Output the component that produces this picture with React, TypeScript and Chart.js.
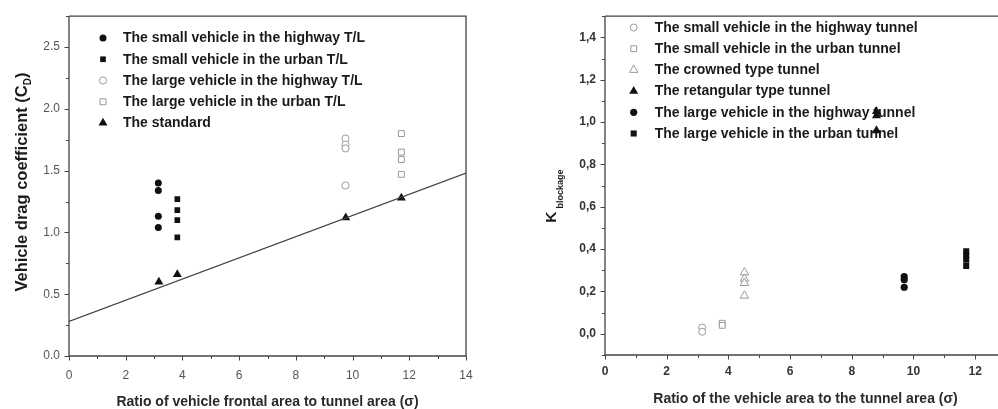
import React, { useEffect, useRef } from 'react';
import { Chart, registerables } from 'chart.js';
Chart.register(...registerables);

const FONT = '"Liberation Sans", Arial, Helvetica, sans-serif';
const BLACK = '#111111';
const GRAY = '#9a9a9a';
const AXIS = '#444444';

// ---------- Left chart data ----------
const leftXTicks = [0, 2, 4, 6, 8, 10, 12, 14];
const leftXMinor = [1, 3, 5, 7, 9, 11, 13];
const leftYTicks = [0, 0.5, 1.0, 1.5, 2.0, 2.5];
const leftYMinor = [0.25, 0.75, 1.25, 1.75, 2.25, 2.75];

const smallHighwayTL_X = [3.15, 3.15, 3.15, 3.15];
const smallHighwayTL_Y = [1.40, 1.34, 1.13, 1.04];
const smallUrbanTL_X = [3.82, 3.82, 3.82, 3.82];
const smallUrbanTL_Y = [1.27, 1.18, 1.10, 0.96];
const largeHighwayTL_X = [9.75, 9.75, 9.75, 9.75];
const largeHighwayTL_Y = [1.76, 1.71, 1.68, 1.38];
const largeUrbanTL_X = [11.72, 11.72, 11.72, 11.72];
const largeUrbanTL_Y = [1.80, 1.65, 1.59, 1.47];
const standard_X = [3.17, 3.82, 9.76, 11.72];
const standard_Y = [0.60, 0.66, 1.12, 1.28];
const fitLine_X = [0, 14];
const fitLine_Y = [0.28, 1.48];

const leftLabels = [
  'The small vehicle in the highway T/L',
  'The small vehicle in the urban T/L',
  'The large vehicle in the highway T/L',
  'The large vehicle in the urban T/L',
  'The standard',
];

// ---------- Right chart data ----------
const rightXTicks = [0, 2, 4, 6, 8, 10, 12];
const rightXMinor = [1, 3, 5, 7, 9, 11, 13];
const rightYTicks = [0, 0.2, 0.4, 0.6, 0.8, 1.0, 1.2, 1.4];
const rightYMinor = [-0.1, 0.1, 0.3, 0.5, 0.7, 0.9, 1.1, 1.3, 1.5];

const smallHighwayTunnel_X = [3.15, 3.15];
const smallHighwayTunnel_Y = [0.03, 0.01];
const smallUrbanTunnel_X = [3.8, 3.8];
const smallUrbanTunnel_Y = [0.05, 0.04];
const crowned_X = [4.52, 4.52, 4.52, 4.52];
const crowned_Y = [0.29, 0.26, 0.24, 0.18];
const rectangular_X = [8.8, 8.8, 8.8];
const rectangular_Y = [1.05, 1.03, 0.96];
const largeHighwayTunnel_X = [9.7, 9.7, 9.7];
const largeHighwayTunnel_Y = [0.27, 0.255, 0.22];
const largeUrbanTunnel_X = [11.71, 11.71, 11.71, 11.71];
const largeUrbanTunnel_Y = [0.39, 0.37, 0.35, 0.32];

const rightLabels = [
  'The small vehicle in the highway tunnel',
  'The small vehicle in the urban tunnel',
  'The crowned type tunnel',
  'The retangular type tunnel',
  'The large vehicle in the highway tunnel',
  'The large vehicle in the urban tunnel',
];

const zip = (xs: number[], ys: number[]) => xs.map((x, i) => ({ x, y: ys[i] }));

type Shape = 'circle' | 'rect' | 'triangle';
type Mark = { shape: Shape; filled: boolean; r: number };

function drawMark(ctx: CanvasRenderingContext2D, x: number, y: number, m: Mark) {
  ctx.save();
  ctx.beginPath();
  if (m.shape === 'circle') {
    ctx.arc(x, y, m.r, 0, Math.PI * 2);
  } else if (m.shape === 'rect') {
    const s = m.r * Math.SQRT1_2;
    ctx.rect(x - s, y - s, 2 * s, 2 * s);
  } else {
    let rad = 0;
    ctx.moveTo(x + Math.sin(rad) * m.r, y - Math.cos(rad) * m.r);
    rad += (2 * Math.PI) / 3;
    ctx.lineTo(x + Math.sin(rad) * m.r, y - Math.cos(rad) * m.r);
    rad += (2 * Math.PI) / 3;
    ctx.lineTo(x + Math.sin(rad) * m.r, y - Math.cos(rad) * m.r);
    ctx.closePath();
  }
  if (m.filled) {
    ctx.fillStyle = BLACK;
    ctx.fill();
  } else {
    ctx.fillStyle = '#ffffff';
    ctx.fill();
    ctx.strokeStyle = GRAY;
    ctx.lineWidth = 1;
    ctx.stroke();
  }
  ctx.restore();
}

function dataset(label: string, data: { x: number; y: number }[], m: Mark) {
  return {
    label,
    data,
    pointStyle: m.shape,
    pointRadius: m.r,
    pointBackgroundColor: m.filled ? BLACK : '#ffffff',
    pointBorderColor: m.filled ? BLACK : GRAY,
    pointBorderWidth: m.filled ? 0 : 1,
    showLine: false,
  };
}

type DecorCfg = {
  legend: { label: string; mark: Mark }[];
  legendX: number;
  legendTextX: number;
  legendY: number;
  legendStep: number;
  xMajor: number[];
  xMinor: number[];
  yMajor: number[];
  yMinor: number[];
  xTitle: string;
  xTitleY: number;
  drawRight: boolean;
  drawYTitle: (ctx: CanvasRenderingContext2D, chart: any) => void;
};

function decorPlugin(cfg: DecorCfg) {
  return {
    id: 'decor',
    beforeDatasetsDraw(chart: any) {
      const ctx: CanvasRenderingContext2D = chart.ctx;
      ctx.save();
      ctx.font = `bold 14px ${FONT}`;
      ctx.textBaseline = 'middle';
      ctx.textAlign = 'left';
      cfg.legend.forEach((it, i) => {
        const y = cfg.legendY + i * cfg.legendStep;
        drawMark(ctx, cfg.legendX, y, it.mark);
        ctx.fillStyle = '#1a1a1a';
        ctx.fillText(it.label, cfg.legendTextX, y + 0.5);
      });
      ctx.restore();
    },
    afterDraw(chart: any) {
      const ctx: CanvasRenderingContext2D = chart.ctx;
      const a = chart.chartArea;
      const xs = chart.scales.x;
      const ys = chart.scales.y;
      ctx.save();
      ctx.strokeStyle = AXIS;
      ctx.lineWidth = 1.3;
      ctx.beginPath();
      ctx.moveTo(a.left, a.top);
      ctx.lineTo(a.left, a.bottom);
      ctx.lineTo(a.right, a.bottom);
      if (cfg.drawRight) ctx.lineTo(a.right, a.top);
      else ctx.moveTo(a.right, a.top);
      ctx.lineTo(a.left, a.top);
      ctx.stroke();
      ctx.lineWidth = 1;
      ctx.beginPath();
      cfg.xMajor.forEach((v) => {
        const px = Math.round(xs.getPixelForValue(v)) + 0.5;
        ctx.moveTo(px, a.bottom);
        ctx.lineTo(px, a.bottom + 4.5);
      });
      cfg.xMinor.forEach((v) => {
        const px = Math.round(xs.getPixelForValue(v)) + 0.5;
        ctx.moveTo(px, a.bottom);
        ctx.lineTo(px, a.bottom + 3);
      });
      cfg.yMajor.forEach((v) => {
        const py = Math.round(ys.getPixelForValue(v)) + 0.5;
        ctx.moveTo(a.left, py);
        ctx.lineTo(a.left - 4.5, py);
      });
      cfg.yMinor.forEach((v) => {
        const py = Math.round(ys.getPixelForValue(v)) + 0.5;
        ctx.moveTo(a.left, py);
        ctx.lineTo(a.left - 3, py);
      });
      ctx.stroke();

      ctx.fillStyle = '#2a2a2a';
      ctx.font = `bold 14px ${FONT}`;
      ctx.textAlign = 'center';
      ctx.textBaseline = 'middle';
      ctx.fillText(cfg.xTitle, (a.left + a.right) / 2, cfg.xTitleY);
      cfg.drawYTitle(ctx, chart);
      ctx.restore();
    },
  };
}

function baseOptions(opts: {
  xMax: number; yMin: number; yMax: number; xTicks: number[]; yTicks: number[];
  fmtY: (v: number) => string; yWidth: number; xHeight: number; padRight: number;
  tickBold: boolean; tickColor: string; xPad: number;
}) {
  const tickFont = { family: FONT, size: 12, weight: opts.tickBold ? ('bold' as const) : ('normal' as const) };
  return {
    responsive: false,
    animation: false as const,
    layout: { padding: { left: 0, right: opts.padRight, top: 13, bottom: 0 } },
    plugins: { legend: { display: false }, tooltip: { enabled: false }, title: { display: false } },
    scales: {
      x: {
        type: 'linear' as const,
        min: 0,
        max: opts.xMax,
        grid: { display: false, drawTicks: false },
        border: { display: false },
        ticks: { font: tickFont, color: opts.tickColor, padding: opts.xPad, maxRotation: 0, callback: (v: any) => String(v) },
        afterBuildTicks: (s: any) => { s.ticks = opts.xTicks.map((v) => ({ value: v })); },
        afterFit: (s: any) => { s.height = opts.xHeight; },
      },
      y: {
        type: 'linear' as const,
        min: opts.yMin,
        max: opts.yMax,
        grid: { display: false, drawTicks: false },
        border: { display: false },
        ticks: { font: tickFont, color: opts.tickColor, padding: 9, callback: (v: any) => opts.fmtY(Number(v)) },
        afterBuildTicks: (s: any) => { s.ticks = opts.yTicks.map((v) => ({ value: v })); },
        afterFit: (s: any) => { s.width = opts.yWidth; },
      },
    },
  };
}

function drawRotated(ctx: CanvasRenderingContext2D, x: number, y: number, parts: { text: string; font: string; dv: number }[], gapAfter: number[] = []) {
  ctx.save();
  ctx.translate(x, y);
  ctx.rotate(-Math.PI / 2);
  ctx.textAlign = 'left';
  ctx.textBaseline = 'alphabetic';
  ctx.fillStyle = '#1a1a1a';
  let u = 0;
  parts.forEach((p, i) => {
    ctx.font = p.font;
    ctx.fillText(p.text, u, p.dv);
    u += ctx.measureText(p.text).width + (gapAfter[i] || 0);
  });
  ctx.restore();
}

function measureParts(ctx: CanvasRenderingContext2D, parts: { text: string; font: string }[]) {
  let w = 0;
  parts.forEach((p) => { ctx.font = p.font; w += ctx.measureText(p.text).width; });
  return w;
}

export default function App() {
  const leftRef = useRef<HTMLCanvasElement | null>(null);
  const rightRef = useRef<HTMLCanvasElement | null>(null);

  useEffect(() => {
    Chart.defaults.font.family = FONT;
    const mSH: Mark = { shape: 'circle', filled: true, r: 3.5 };
    const mSU: Mark = { shape: 'rect', filled: true, r: 4.0 };
    const mLH: Mark = { shape: 'circle', filled: false, r: 3.6 };
    const mLU: Mark = { shape: 'rect', filled: false, r: 4.2 };
    const mST: Mark = { shape: 'triangle', filled: true, r: 5.2 };

    const left = new Chart(leftRef.current as HTMLCanvasElement, {
      type: 'scatter',
      data: {
        datasets: [
          {
            label: 'fit',
            data: zip(fitLine_X, fitLine_Y),
            showLine: true,
            pointRadius: 0,
            borderColor: '#444444',
            borderWidth: 1.2,
          } as any,
          dataset(leftLabels[0], zip(smallHighwayTL_X, smallHighwayTL_Y), mSH),
          dataset(leftLabels[1], zip(smallUrbanTL_X, smallUrbanTL_Y), mSU),
          dataset(leftLabels[2], zip(largeHighwayTL_X, largeHighwayTL_Y), mLH),
          dataset(leftLabels[3], zip(largeUrbanTL_X, largeUrbanTL_Y), mLU),
          dataset(leftLabels[4], zip(standard_X, standard_Y), mST),
        ],
      },
      options: baseOptions({
        xMax: 14, yMin: 0, yMax: 2.75, xTicks: leftXTicks, yTicks: leftYTicks,
        fmtY: (v) => v.toFixed(1), yWidth: 69, xHeight: 53, padRight: 32,
        tickBold: false, tickColor: '#555555', xPad: 12,
      }) as any,
      plugins: [
        decorPlugin({
          legend: [
            { label: leftLabels[0], mark: mSH },
            { label: leftLabels[1], mark: mSU },
            { label: leftLabels[2], mark: mLH },
            { label: leftLabels[3], mark: mLU },
            { label: leftLabels[4], mark: mST },
          ],
          legendX: 103,
          legendTextX: 123,
          legendY: 38,
          legendStep: 21.25,
          xMajor: leftXTicks,
          xMinor: leftXMinor,
          yMajor: leftYTicks,
          yMinor: leftYMinor,
          xTitle: 'Ratio of vehicle frontal area to tunnel area (σ)',
          xTitleY: 402,
          drawRight: true,
          drawYTitle: (ctx, chart) => {
            const big = `bold 16.5px ${FONT}`;
            const sub = `bold 10px ${FONT}`;
            const parts = [
              { text: 'Vehicle drag coefficient (C', font: big, dv: 0 },
              { text: 'D', font: sub, dv: 4 },
              { text: ')', font: big, dv: 0 },
            ];
            const w = measureParts(ctx, parts);
            const a = chart.chartArea;
            const cy = (a.top + a.bottom) / 2 - 4;
            drawRotated(ctx, 27, cy + w / 2, parts);
          },
        }) as any,
      ],
    });

    const rSH: Mark = { shape: 'circle', filled: false, r: 3.5 };
    const rSU: Mark = { shape: 'rect', filled: false, r: 4.1 };
    const rCR: Mark = { shape: 'triangle', filled: false, r: 4.9 };
    const rRE: Mark = { shape: 'triangle', filled: true, r: 5.2 };
    const rLH: Mark = { shape: 'circle', filled: true, r: 3.6 };
    const rLU: Mark = { shape: 'rect', filled: true, r: 4.3 };

    const right = new Chart(rightRef.current as HTMLCanvasElement, {
      type: 'scatter',
      data: {
        datasets: [
          dataset(rightLabels[0], zip(smallHighwayTunnel_X, smallHighwayTunnel_Y), rSH),
          dataset(rightLabels[1], zip(smallUrbanTunnel_X, smallUrbanTunnel_Y), rSU),
          dataset(rightLabels[2], zip(crowned_X, crowned_Y), rCR),
          dataset(rightLabels[3], zip(rectangular_X, rectangular_Y), rRE),
          dataset(rightLabels[4], zip(largeHighwayTunnel_X, largeHighwayTunnel_Y), rLH),
          dataset(rightLabels[5], zip(largeUrbanTunnel_X, largeUrbanTunnel_Y), rLU),
        ],
      },
      options: baseOptions({
        xMax: 13, yMin: -0.1, yMax: 1.5, xTicks: rightXTicks, yTicks: rightYTicks,
        fmtY: (v) => v.toFixed(1).replace('.', ','), yWidth: 107, xHeight: 54, padRight: 12,
        tickBold: true, tickColor: '#333333', xPad: 9,
      }) as any,
      plugins: [
        decorPlugin({
          legend: [
            { label: rightLabels[0], mark: rSH },
            { label: rightLabels[1], mark: rSU },
            { label: rightLabels[2], mark: rCR },
            { label: rightLabels[3], mark: rRE },
            { label: rightLabels[4], mark: rLH },
            { label: rightLabels[5], mark: rLU },
          ],
          legendX: 135.7,
          legendTextX: 156.7,
          legendY: 27.5,
          legendStep: 21.2,
          xMajor: rightXTicks,
          xMinor: rightXMinor,
          yMajor: rightYTicks,
          yMinor: rightYMinor,
          xTitle: 'Ratio of the vehicle area to the tunnel area (σ)',
          xTitleY: 399,
          drawRight: false,
          drawYTitle: (ctx) => {
            drawRotated(ctx, 58, 222.7, [
              { text: 'K', font: `bold 15.5px ${FONT}`, dv: 0 },
              { text: 'blockage', font: `bold 9px ${FONT}`, dv: 6.5 },
            ], [3]);
          },
        }) as any,
      ],
    });

    return () => {
      left.destroy();
      right.destroy();
    };
  }, []);

  return (
    <div style={{ position: 'fixed', left: 0, top: 0, width: 998, height: 409, overflow: 'hidden', background: '#ffffff' }}>
      <div style={{ position: 'absolute', left: 0, top: 0, width: 498, height: 409 }}>
        <canvas ref={leftRef} width={498} height={409} style={{ display: 'block' }} />
      </div>
      <div style={{ position: 'absolute', left: 498, top: 0, width: 520, height: 409 }}>
        <canvas ref={rightRef} width={520} height={409} style={{ display: 'block' }} />
      </div>
    </div>
  );
}
